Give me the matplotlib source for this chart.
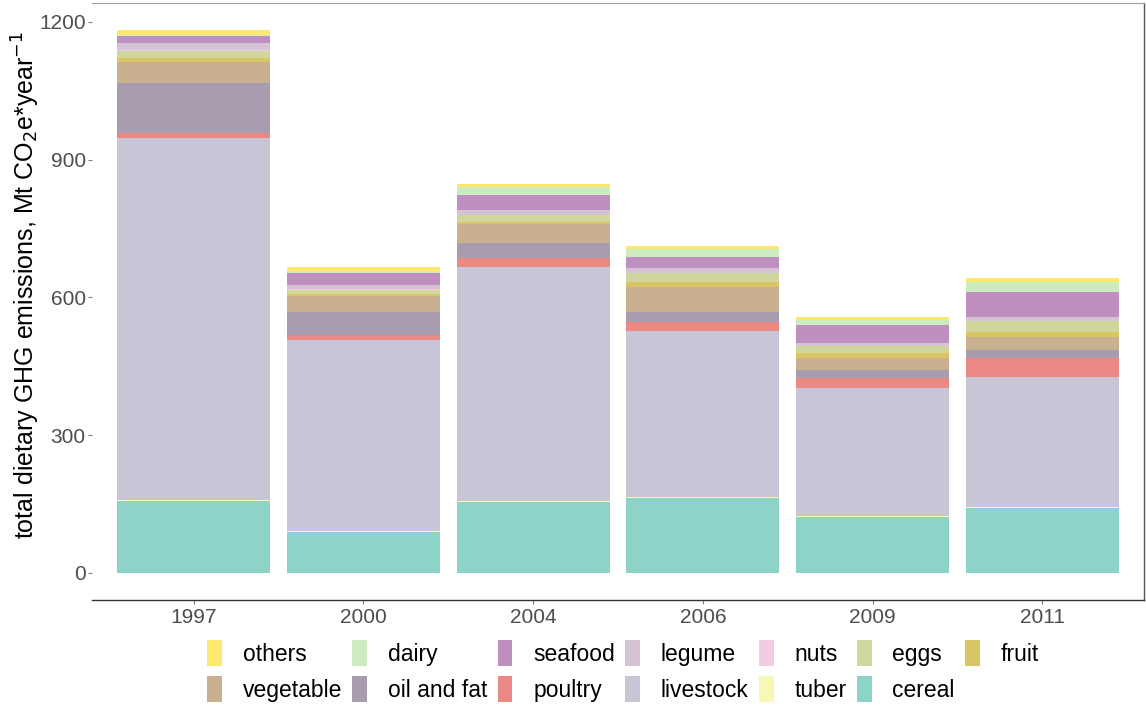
import matplotlib
matplotlib.use("Agg")
import matplotlib.pyplot as plt
from matplotlib.patches import Patch
import numpy as np

plt.rcParams['font.family'] = ['Liberation Sans', 'DejaVu Sans']

years = ["1997", "2000", "2004", "2006", "2009", "2011"]

# emissions by food group, Mt CO2e per year (stack order: bottom to top)
cereal     = [156, 90, 155, 164, 122, 141]
tuber      = [2, 2, 2, 2, 2, 2]
livestock  = [790, 416, 510, 360, 279, 283]
poultry    = [11, 11, 19, 20, 22, 42]
oil_fat    = [107, 50, 33, 23, 16, 17]
vegetable  = [47, 34, 40, 54, 27, 28]
fruit      = [8, 4, 5, 11, 10, 12]
eggs       = [16, 10, 15, 19, 16, 23]
nuts       = [1, 1, 1, 1, 1, 1]
legume     = [15, 10, 11, 9, 5, 8]
seafood    = [17, 25, 31, 24, 40, 55]
dairy      = [2, 2, 19, 18, 11, 22]
others     = [10, 11, 5, 7, 6, 9]

groups = ["cereal", "tuber", "livestock", "poultry", "oil and fat", "vegetable",
          "fruit", "eggs", "nuts", "legume", "seafood", "dairy", "others"]
values = [cereal, tuber, livestock, poultry, oil_fat, vegetable,
          fruit, eggs, nuts, legume, seafood, dairy, others]
colors = {
    "cereal": "#8DD3C7", "tuber": "#F6F8B6", "livestock": "#C8C6D6",
    "poultry": "#EB8A85", "oil and fat": "#A89DAF", "vegetable": "#C8B091",
    "fruit": "#D9C563", "eggs": "#D1D69C", "nuts": "#F0CEE0",
    "legume": "#D3C3D3", "seafood": "#BF8FBF", "dairy": "#CDEBC0",
    "others": "#FDE96D",
}

fig = plt.figure(figsize=(11.46, 7.06), dpi=100)
ax = fig.add_axes([92 / 1146, 106 / 706, 1052 / 1146, 597 / 706])

x = np.arange(len(years))
bottom = np.zeros(len(years))
for name, vals in zip(groups, values):
    ax.bar(x, vals, width=0.9, bottom=bottom, color=colors[name],
           edgecolor="none", linewidth=0)
    bottom += np.array(vals)

ax.set_xlim(-0.6, len(years) - 0.4)
ax.set_ylim(-59, 1241)
ax.set_xticks(x)
ax.set_xticklabels(years)
ax.set_yticks([0, 300, 600, 900, 1200])
ax.tick_params(axis="both", labelsize=15, colors="#7F7F7F", length=3,
               width=0.8, labelcolor="#4D4D4D", pad=1.5)
ax.tick_params(axis="x", pad=3)

ax.spines["left"].set_visible(False)
ax.spines["top"].set_color("#A0A0A0")
ax.spines["top"].set_linewidth(0.8)
ax.spines["right"].set_color("#555555")
ax.spines["right"].set_linewidth(1.0)
ax.spines["bottom"].set_color("#333333")
ax.spines["bottom"].set_linewidth(1.0)

ax.set_ylabel(r"total dietary GHG emissions, Mt CO$_2$e*year$^{-1}$",
              fontsize=18, color="black")
ax.yaxis.set_label_coords(-0.048, 0.527)

# legend laid out row-wise, 7 columns
row1 = ["others", "dairy", "seafood", "legume", "nuts", "eggs", "fruit"]
row2 = ["vegetable", "oil and fat", "poultry", "livestock", "tuber", "cereal"]
order = []
for i in range(7):
    order.append(row1[i])
    if i < len(row2):
        order.append(row2[i])
handles = [Patch(facecolor=colors[n], edgecolor="none", label=n) for n in order]
fig.legend(handles=handles, loc="upper center", bbox_to_anchor=(623 / 1146, 66 / 706),
           ncol=7, frameon=False, fontsize=16.5, handlelength=0.65, handleheight=1.35,
           handletextpad=0.9, columnspacing=0.45, labelspacing=0.45,
           borderaxespad=0, borderpad=0)

fig.savefig("out.png", dpi=100)
